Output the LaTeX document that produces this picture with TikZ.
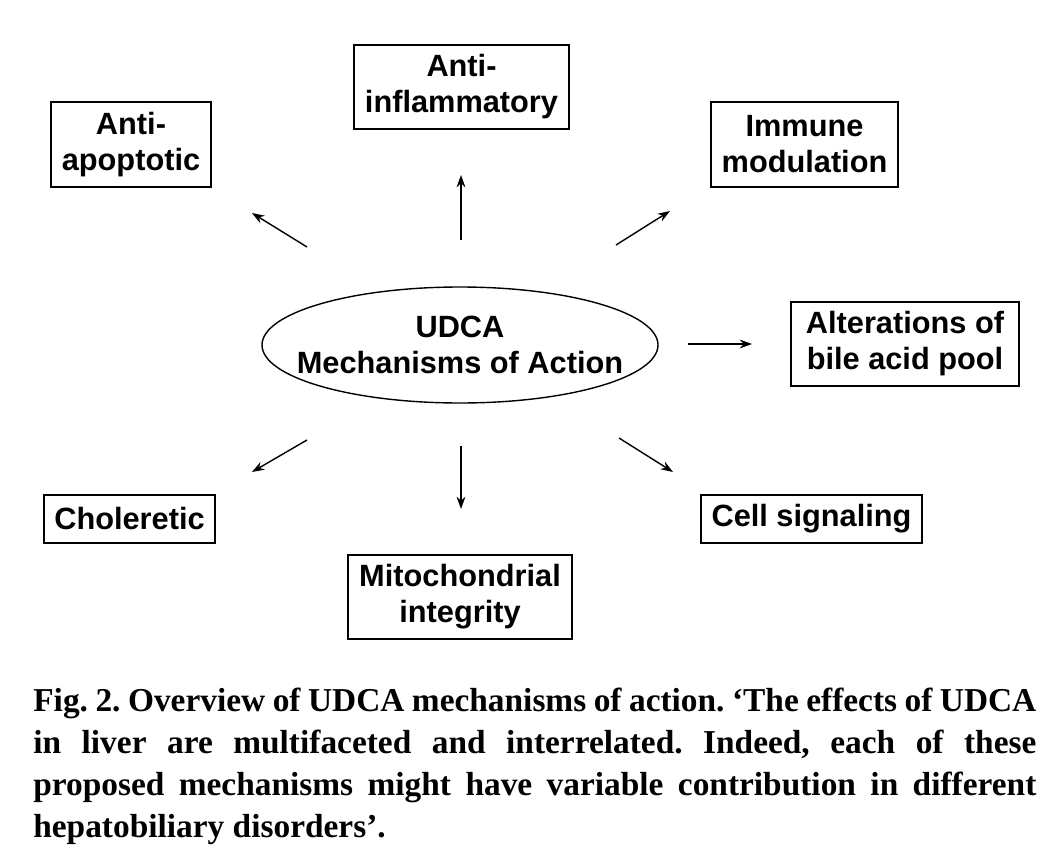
\documentclass[tikz,border=0pt]{standalone}
\usepackage{fontspec}
\setmainfont{Liberation Serif}
\setsansfont{Liberation Sans}
\usetikzlibrary{arrows.meta, shapes.geometric}

\begin{document}
\begin{tikzpicture}[
        x = 0.02cm, y = -0.02cm,
        > = {Stealth[length=7pt, width=5pt]},
        mech/.style = {draw, line width = 0.8pt, align = center,
            font = \sffamily\bfseries\fontsize{17.5}{20.5}\selectfont,
            inner sep = 0pt},
        link/.style = {->, line width = 0.8pt}
    ]

        % Frame.
        \useasboundingbox (0, 0) rectangle (1062, 865);

        % Centre.
        \node[align = center, font = \sffamily\bfseries\fontsize{17.5}{20.5}\selectfont]
            (udca) at (460, 345) {UDCA\\Mechanisms of Action};
        \draw[line width = 0.8pt] (udca.center) ellipse (198 and 58);

        % Mechanisms.
        \node[mech, minimum width = 3.2cm, minimum height = 1.7cm] (apop) at (131, 144.5) {Anti-\\apoptotic};
        \node[mech, minimum width = 4.3cm, minimum height = 1.68cm] (infl) at (461.5, 87) {Anti-\\inflammatory};
        \node[mech, minimum width = 3.74cm, minimum height = 1.7cm] (immu) at (804.5, 144.5) {Immune\\modulation};
        \node[mech, minimum width = 4.56cm, minimum height = 1.68cm] (pool) at (905, 344) {Alterations of\\bile acid pool};
        \node[mech, minimum width = 4.42cm, minimum height = 0.96cm] (sign) at (811.5, 519) {Cell signaling};
        \node[mech, minimum width = 4.48cm, minimum height = 1.68cm] (mito) at (460, 597) {Mitochondrial\\integrity};
        \node[mech, minimum width = 3.42cm, minimum height = 0.96cm] (chol) at (129.5, 519) {Choleretic};

        % Arrow ends.
        \coordinate (a1) at (307, 247); \coordinate (b1) at (252, 213);
        \coordinate (a2) at (461, 240); \coordinate (b2) at (461, 175);
        \coordinate (a3) at (616, 245); \coordinate (b3) at (670, 211);
        \coordinate (a4) at (688, 344); \coordinate (b4) at (752, 344);
        \coordinate (a5) at (307, 440); \coordinate (b5) at (252, 472);
        \coordinate (a6) at (461, 446); \coordinate (b6) at (461, 509);
        \coordinate (a7) at (619, 438); \coordinate (b7) at (673, 472);
        \foreach \n in {1, ..., 7}{%
            \draw[link] (a\n) to (b\n);
        }

        % Caption.
        \node[anchor = north west, inner sep = 0pt, text width = 1003*0.02cm,
            align = justify, font = \bfseries\fontsize{19}{23.8}\selectfont\frenchspacing]
            (caption) at (33, 688) {Fig. 2. Overview of UDCA mechanisms of action. `The effects of UDCA\linebreak in liver are multifaceted and interrelated. Indeed, each of these\linebreak proposed mechanisms might have variable contribution in different\linebreak hepatobiliary disorders'.};
    \end{tikzpicture}
\end{document}
